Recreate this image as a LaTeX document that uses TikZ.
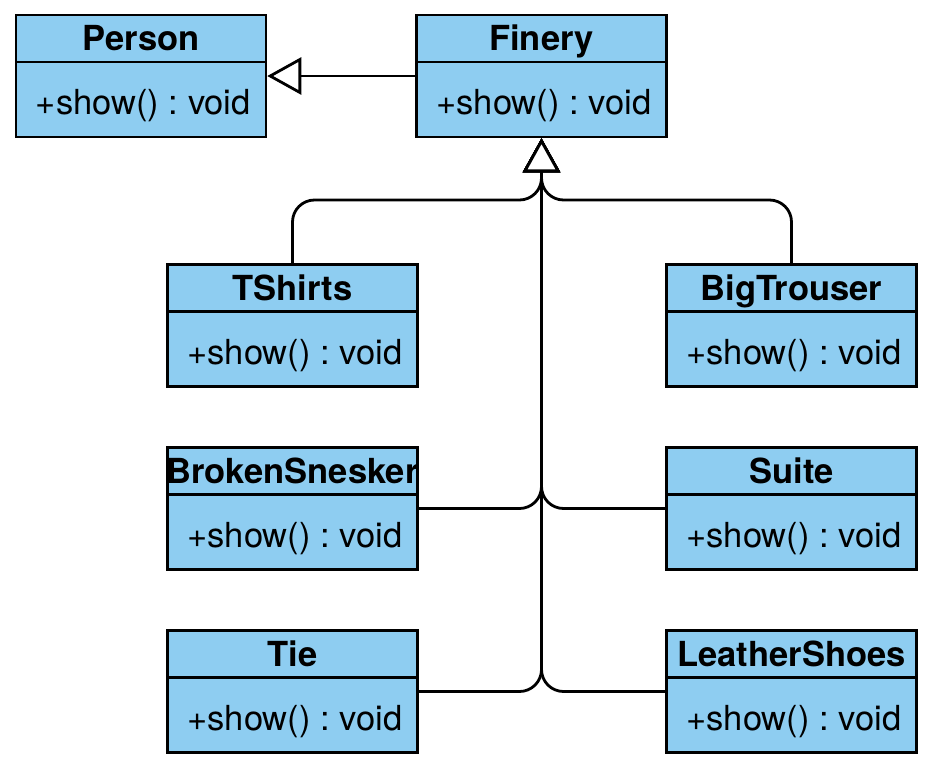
\documentclass[tikz,border=0pt]{standalone}
\usepackage{fontspec}
\setmainfont{TeX Gyre Heros}
\usepackage{tikz}
\usetikzlibrary{positioning,arrows.meta}
\frenchspacing

\definecolor{classfill}{HTML}{8ECDF1}

\tikzset{
  classbox/.style={draw=black, fill=classfill, line width=2.5pt, minimum width=250pt, minimum height=122pt, inner sep=0pt},
  classhead/.style={draw=black, fill=classfill, line width=2.5pt, minimum width=250pt, minimum height=47pt, inner sep=0pt,
    font=\fontsize{34.5}{40}\selectfont\bfseries, text height=24.5pt, text depth=0pt},
  classop/.style={minimum height=78pt, inner ysep=0pt, inner xsep=21pt,
    font=\fontsize{34.5}{40}\selectfont, text height=24.5pt, text depth=0pt},
  extends/.style={draw, line width=2.8pt, rounded corners=22pt,
    -{Triangle[open, length=34pt, width=37pt, fill=white]}}
}

\newcommand{\umlclass}[3]{%
  \node[classbox] (#1) at (#2) {};
  \node[classhead, below=0pt of #1.north] (#1-head) {\makebox[0pt]{#3}};
  \node[classop, anchor=north west] (#1-op) at (#1-head.south west) {+show() : void};
}

\begin{document}
\begin{tikzpicture}[x=1pt,y=1pt]
    \useasboundingbox (0,0) rectangle (936,-768);
    \umlclass{person}{141,-76}{Person}
    \umlclass{finery}{541.5,-76}{Finery}
    \umlclass{tshirts}{292.5,-325.5}{TShirts}
    \umlclass{bigtrouser}{791.5,-325.5}{BigTrouser}
    \umlclass{brokensnesker}{292.5,-508.5}{BrokenSnesker}
    \umlclass{suite}{791.5,-508.5}{Suite}
    \umlclass{tie}{292.5,-691.5}{Tie}
    \umlclass{leathershoes}{791.5,-691.5}{LeatherShoes}
    \coordinate (hub) at (541.5,-200);
    \draw[extends] (finery) -- (person);
    \draw[extends] (tshirts.north) |- (hub) -- (finery.south);
    \draw[extends] (bigtrouser.north) |- (hub) -- (finery.south);
    \draw[extends] (brokensnesker.east) -| (finery.south);
    \draw[extends] (suite.west) -| (finery.south);
    \draw[extends] (tie.east) -| (finery.south);
    \draw[extends] (leathershoes.west) -| (finery.south);
\end{tikzpicture}
\end{document}
